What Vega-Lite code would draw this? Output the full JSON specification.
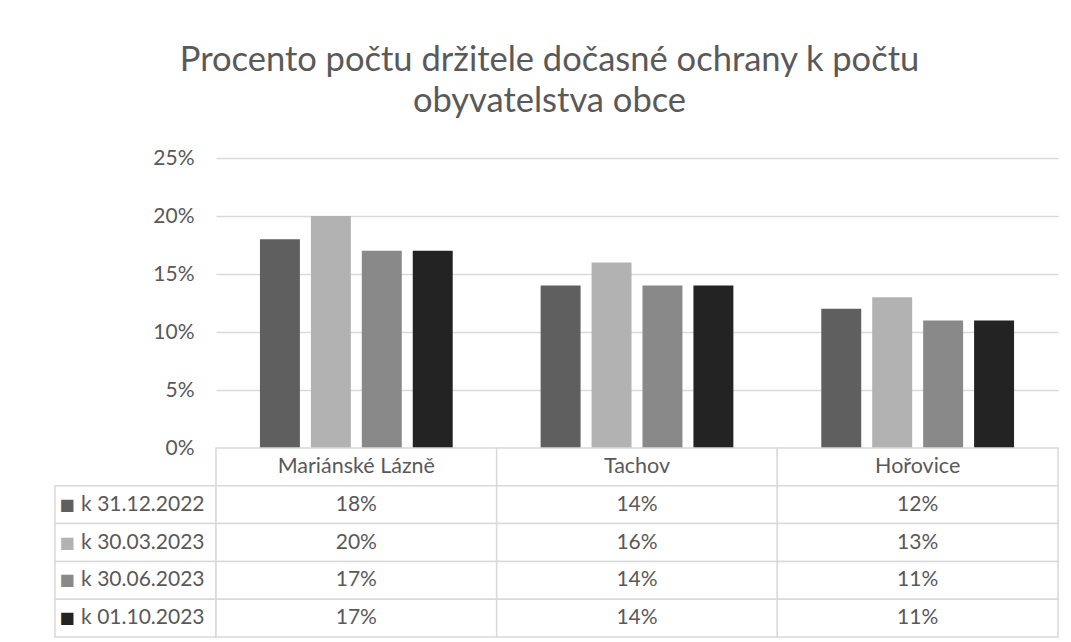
{
  "$schema": "https://vega.github.io/schema/vega-lite/v6.json",
  "background": "white",
  "padding": {"left": 54, "top": 42, "right": 14, "bottom": 5},
  "config": {"view": {"stroke": null}, "font": "Lato", "text": {"font": "Lato"}},
  "title": {
    "text": ["Procento počtu držitele dočasné ochrany k počtu", "obyvatelstva obce"],
    "fontSize": 34.5, "font": "Lato", "fontWeight": "normal", "color": "#595959",
    "lineHeight": 41, "anchor": "middle", "dx": -7, "offset": 28
  },
  "datasets": {
    "bars": [
      {"city": "Mariánské Lázně", "series": "k 31.12.2022", "value": 0.18},
      {"city": "Mariánské Lázně", "series": "k 30.03.2023", "value": 0.20},
      {"city": "Mariánské Lázně", "series": "k 30.06.2023", "value": 0.17},
      {"city": "Mariánské Lázně", "series": "k 01.10.2023", "value": 0.17},
      {"city": "Tachov", "series": "k 31.12.2022", "value": 0.14},
      {"city": "Tachov", "series": "k 30.03.2023", "value": 0.16},
      {"city": "Tachov", "series": "k 30.06.2023", "value": 0.14},
      {"city": "Tachov", "series": "k 01.10.2023", "value": 0.14},
      {"city": "Hořovice", "series": "k 31.12.2022", "value": 0.12},
      {"city": "Hořovice", "series": "k 30.03.2023", "value": 0.13},
      {"city": "Hořovice", "series": "k 30.06.2023", "value": 0.11},
      {"city": "Hořovice", "series": "k 01.10.2023", "value": 0.11}
    ],
    "cities": [{"city": "Mariánské Lázně"}, {"city": "Tachov"}, {"city": "Hořovice"}],
    "series": [{"series": "k 31.12.2022"}, {"series": "k 30.03.2023"}, {"series": "k 30.06.2023"}, {"series": "k 01.10.2023"}]
  },
  "columns": 2,
  "spacing": 0,
  "bounds": "flush",
  "resolve": {"scale": {"x": "independent", "y": "independent", "color": "independent", "xOffset": "independent"}},
  "concat": [
    {
      "width": 161, "height": 290,
      "data": {"name": "series"},
      "mark": {"type": "point", "opacity": 0},
      "encoding": {
        "y": {"field": "series", "type": "nominal", "axis": null}
      }
    },
    {
      "width": 842, "height": 290,
      "data": {"name": "bars"},
      "mark": {"type": "bar"},
      "encoding": {
        "x": {"field": "city", "type": "nominal", "sort": ["Mariánské Lázně", "Tachov", "Hořovice"], "scale": {"domain": ["Mariánské Lázně", "Tachov", "Hořovice"], "paddingInner": 0, "paddingOuter": 0}, "axis": null},
        "xOffset": {"field": "series", "type": "nominal", "sort": ["k 31.12.2022", "k 30.03.2023", "k 30.06.2023", "k 01.10.2023"], "scale": {"domain": ["k 31.12.2022", "k 30.03.2023", "k 30.06.2023", "k 01.10.2023"], "paddingInner": 0.2157, "paddingOuter": 0.863}},
        "y": {"field": "value", "type": "quantitative", "scale": {"domain": [0, 0.25], "nice": false},
          "axis": {"values": [0, 0.05, 0.1, 0.15, 0.2, 0.25], "format": ".0%", "title": null, "domain": false, "ticks": false, "grid": true, "gridColor": "#d9d9d9", "gridWidth": 1.5, "labelFontSize": 21, "labelColor": "#595959", "labelPadding": 22, "labelFont": "Lato"}},
        "color": {"field": "series", "type": "nominal", "scale": {"domain": ["k 31.12.2022", "k 30.03.2023", "k 30.06.2023", "k 01.10.2023"], "range": ["#5f5f5f", "#b2b2b2", "#898989", "#232323"]}, "legend": null}
      }
    },
    {
      "width": 161, "height": 189,
      "data": {"name": "series"},
      "mark": {"type": "rect", "fill": "white", "stroke": "#d9d9d9", "strokeWidth": 1.5},
      "encoding": {
        "y": {"field": "series", "type": "nominal", "scale": {"domain": ["header", "k 31.12.2022", "k 30.03.2023", "k 30.06.2023", "k 01.10.2023"], "paddingInner": 0, "paddingOuter": 0},
          "axis": {"orient": "right", "values": ["k 31.12.2022", "k 30.03.2023", "k 30.06.2023", "k 01.10.2023"], "title": null, "domain": false, "ticks": false, "labelAlign": "right", "labelPadding": -12, "labelFontSize": 21, "labelColor": "#595959", "labelFont": "Lato"}}
      }
    },
    {
      "width": 842, "height": 189,
      "encoding": {
        "x": {"field": "city", "type": "nominal", "scale": {"domain": ["Mariánské Lázně", "Tachov", "Hořovice"], "paddingInner": 0, "paddingOuter": 0}, "axis": null}
      },
      "layer": [
        {
          "data": {"name": "cities"},
          "mark": {"type": "rect", "fill": "white", "stroke": "#d9d9d9", "strokeWidth": 1.5},
          "encoding": {
            "y": {"datum": "header", "type": "nominal", "scale": {"domain": ["header", "k 31.12.2022", "k 30.03.2023", "k 30.06.2023", "k 01.10.2023"], "paddingInner": 0, "paddingOuter": 0},
              "axis": {"orient": "left", "values": ["k 31.12.2022", "k 30.03.2023", "k 30.06.2023", "k 01.10.2023"], "title": null, "domain": false, "ticks": false, "labelAlign": "right", "labelPadding": 142, "labelExpr": "'■'", "labelFontSize": 16, "labelFont": "DejaVu Sans",
                "labelColor": {"expr": "datum.value == 'k 31.12.2022' ? '#5f5f5f' : datum.value == 'k 30.03.2023' ? '#b2b2b2' : datum.value == 'k 30.06.2023' ? '#898989' : '#232323'"}}}
          }
        },
        {
          "data": {"name": "cities"},
          "mark": {"type": "text", "fontSize": 21.5, "color": "#595959", "font": "Lato"},
          "encoding": {
            "y": {"datum": "header", "type": "nominal",
              "axis": {"orient": "left", "values": ["k 31.12.2022", "k 30.03.2023", "k 30.06.2023", "k 01.10.2023"], "title": null, "domain": false, "ticks": false, "labelAlign": "right", "labelPadding": 142, "labelExpr": "'■'", "labelFontSize": 16, "labelFont": "DejaVu Sans",
                "labelColor": {"expr": "datum.value == 'k 31.12.2022' ? '#5f5f5f' : datum.value == 'k 30.03.2023' ? '#b2b2b2' : datum.value == 'k 30.06.2023' ? '#898989' : '#232323'"}}},
            "text": {"field": "city"}
          }
        },
        {
          "data": {"name": "bars"},
          "mark": {"type": "rect", "fill": "white", "stroke": "#d9d9d9", "strokeWidth": 1.5},
          "encoding": {
            "y": {"field": "series", "type": "nominal",
              "axis": {"orient": "left", "values": ["k 31.12.2022", "k 30.03.2023", "k 30.06.2023", "k 01.10.2023"], "title": null, "domain": false, "ticks": false, "labelAlign": "right", "labelPadding": 142, "labelExpr": "'■'", "labelFontSize": 16, "labelFont": "DejaVu Sans",
                "labelColor": {"expr": "datum.value == 'k 31.12.2022' ? '#5f5f5f' : datum.value == 'k 30.03.2023' ? '#b2b2b2' : datum.value == 'k 30.06.2023' ? '#898989' : '#232323'"}}}
          }
        },
        {
          "data": {"name": "bars"},
          "mark": {"type": "text", "fontSize": 21, "color": "#595959", "font": "Lato"},
          "encoding": {
            "y": {"field": "series", "type": "nominal",
              "axis": {"orient": "left", "values": ["k 31.12.2022", "k 30.03.2023", "k 30.06.2023", "k 01.10.2023"], "title": null, "domain": false, "ticks": false, "labelAlign": "right", "labelPadding": 142, "labelExpr": "'■'", "labelFontSize": 16, "labelFont": "DejaVu Sans",
                "labelColor": {"expr": "datum.value == 'k 31.12.2022' ? '#5f5f5f' : datum.value == 'k 30.03.2023' ? '#b2b2b2' : datum.value == 'k 30.06.2023' ? '#898989' : '#232323'"}}},
            "text": {"field": "value", "type": "quantitative", "format": ".0%"}
          }
        }
      ]
    }
  ]
}
